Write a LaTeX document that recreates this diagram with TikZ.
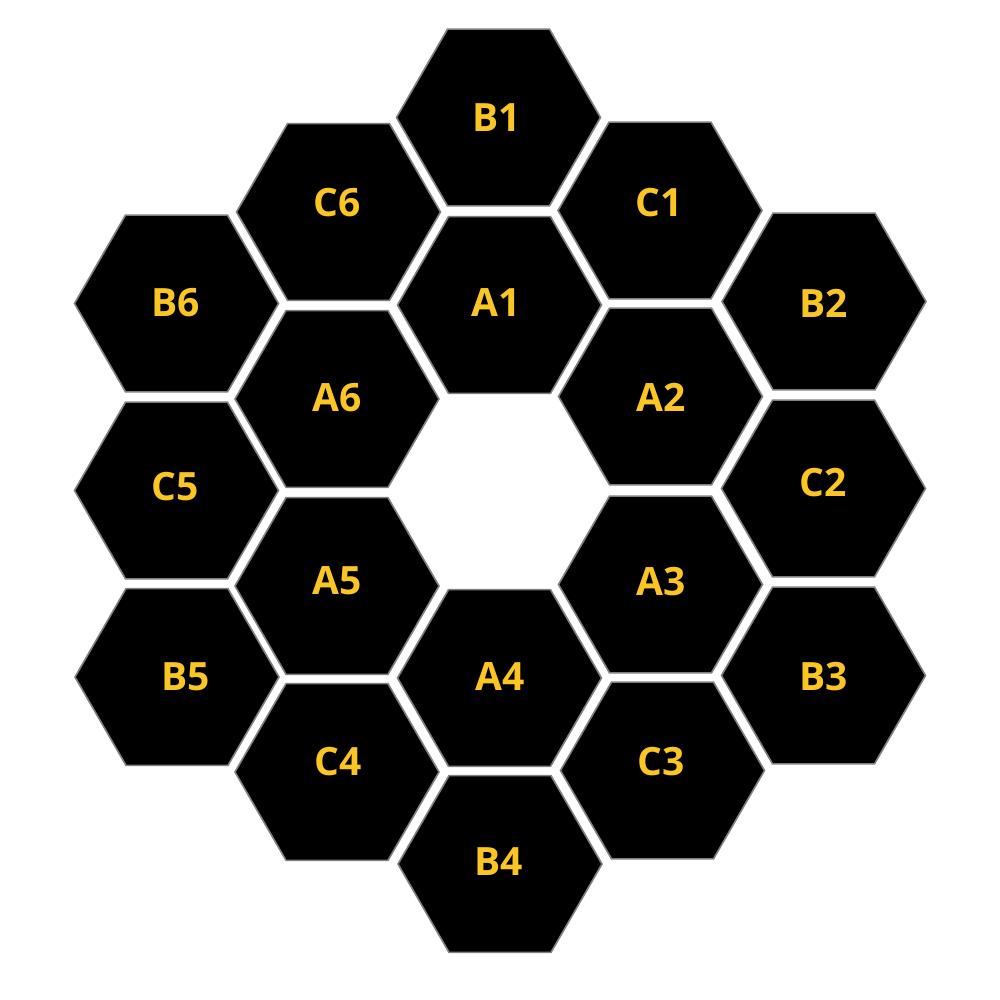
\documentclass[tikz,border=0pt]{standalone}
\usepackage{fontspec}
\setmainfont{Open Sans}
\usetikzlibrary{shapes.geometric}
\definecolor{hexgold}{HTML}{FBC523}
\definecolor{hexedge}{HTML}{808080}
\tikzset{
  hexcell/.style={regular polygon, regular polygon sides=6, minimum size=204pt,
    inner sep=0pt, outer sep=0pt, fill=black, draw=hexedge, line width=1.6pt},
  hexlabel/.style={text=hexgold, font=\fontsize{39}{39}\selectfont\bfseries, inner sep=0pt}
}
\begin{document}
\begin{tikzpicture}[x=1pt,y=-1pt]
\fill[white] (0,0) rectangle (1000,1000);
\useasboundingbox (0,0) rectangle (1000,1000);
% hexagon cells
\node[hexcell] (hB1) at (498.5,117.5) {};
\node[hexcell] (hA1) at (499.5,305) {};
\node[hexcell] (hC1) at (660,210.5) {};
\node[hexcell] (hB2) at (824,301.5) {};
\node[hexcell] (hA2) at (660.5,396.5) {};
\node[hexcell] (hC2) at (823.5,488.5) {};
\node[hexcell] (hA3) at (660.5,584.5) {};
\node[hexcell] (hB3) at (823.5,675.5) {};
\node[hexcell] (hC3) at (662.5,770.5) {};
\node[hexcell] (hA4) at (499.5,678) {};
\node[hexcell] (hB4) at (500,864) {};
\node[hexcell] (hC4) at (337,772) {};
\node[hexcell] (hB5) at (177,677) {};
\node[hexcell] (hA5) at (337,586) {};
\node[hexcell] (hC5) at (176.5,490.5) {};
\node[hexcell] (hA6) at (337,399) {};
\node[hexcell] (hB6) at (176.5,303.5) {};
\node[hexcell] (hC6) at (338.5,212) {};
% labels
\node[hexlabel] (tB1) at (497,117.5) {B1};
\node[hexlabel] (tA1) at (496,303) {A1};
\node[hexlabel] (tC1) at (659,203) {C1};
\node[hexlabel] (tB2) at (824,303) {B2};
\node[hexlabel] (tA2) at (661,397) {A2};
\node[hexlabel] (tC2) at (823,483) {C2};
\node[hexlabel] (tA3) at (661,582) {A3};
\node[hexlabel] (tB3) at (824,677) {B3};
\node[hexlabel] (tC3) at (661,762) {C3};
\node[hexlabel] (tA4) at (500,677) {A4};
\node[hexlabel] (tB4) at (499,862) {B4};
\node[hexlabel] (tC4) at (338,762) {C4};
\node[hexlabel] (tB5) at (186,677) {B5};
\node[hexlabel] (tA5) at (337,581) {A5};
\node[hexlabel] (tC5) at (175.5,487) {C5};
\node[hexlabel] (tA6) at (337,398) {A6};
\node[hexlabel] (tB6) at (176,303) {B6};
\node[hexlabel] (tC6) at (337.5,203) {C6};
\end{tikzpicture}
\end{document}
